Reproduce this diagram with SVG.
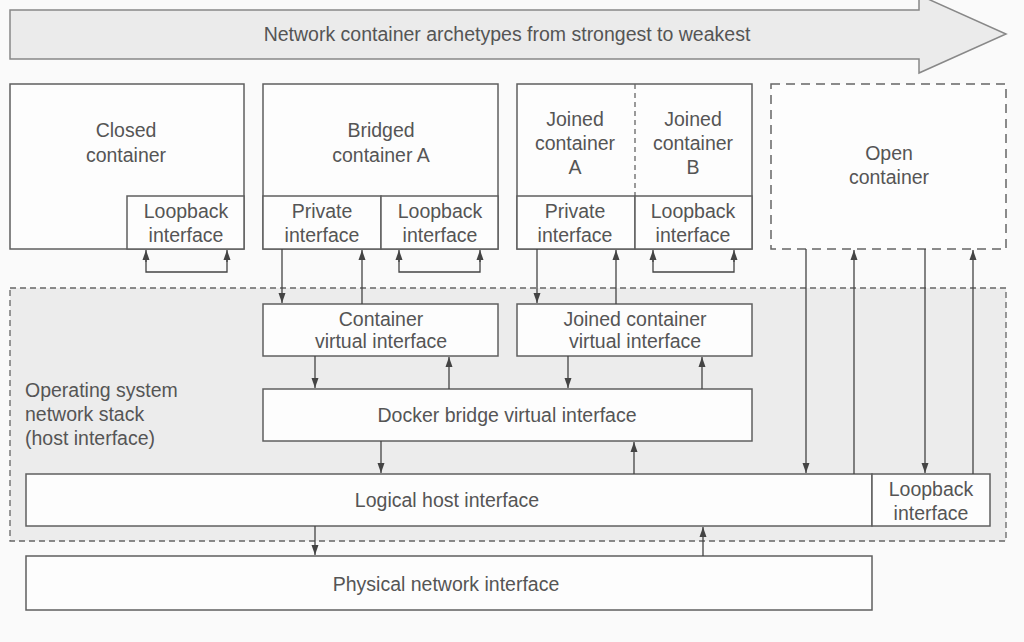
<svg xmlns="http://www.w3.org/2000/svg" width="1024" height="642" viewBox="0 0 1024 642">
<defs>
<marker id="ah" viewBox="0 0 10 10" refX="10" refY="5" markerWidth="10" markerHeight="10" markerUnits="userSpaceOnUse" orient="auto">
<path d="M0,1.5 L10,5 L0,8.5 Z" fill="#444"/>
</marker>
<style>
.bx{fill:#fdfdfd;stroke:#5f5f5f;stroke-width:1.5}
.t{font-family:"Liberation Sans",Arial,sans-serif;font-size:19.5px;fill:#555;text-anchor:middle}
.tl{font-family:"Liberation Sans",Arial,sans-serif;font-size:19.5px;fill:#555}
.c{fill:none;stroke:#444;stroke-width:1.3}
.ca{fill:none;stroke:#444;stroke-width:1.3;marker-end:url(#ah)}
</style>
</defs>
<rect width="1024" height="642" fill="#fafafa"/>
<g id="banner">
<polygon points="10,10 919,10 919,-5 1006,34 919,73 919,59 10,59" fill="#ebebeb" stroke="#888" stroke-width="1.5"/>
<text class="t" x="507" y="41">Network container archetypes from strongest to weakest</text>
</g>
<g id="os-stack">
<rect x="10" y="288" width="996" height="253" fill="#ececec" stroke="#666" stroke-width="1.3" stroke-dasharray="6,4"/>
<text class="tl" x="25" y="397">Operating system</text>
<text class="tl" x="25" y="421">network stack</text>
<text class="tl" x="25" y="445">(host interface)</text>
</g>
<g id="closed">
<rect class="bx" x="10" y="84" width="234" height="165"/>
<rect class="bx" x="127" y="196" width="117" height="53"/>
<text class="t" x="126" y="137">Closed</text>
<text class="t" x="126" y="162">container</text>
<text class="t" x="186" y="218">Loopback</text>
<text class="t" x="186" y="242">interface</text>
</g>
<g id="bridged">
<rect class="bx" x="263" y="84" width="235" height="165"/>
<rect class="bx" x="263" y="196" width="118" height="53"/>
<rect class="bx" x="381" y="196" width="117" height="53"/>
<text class="t" x="381" y="137">Bridged</text>
<text class="t" x="381" y="162">container A</text>
<text class="t" x="322" y="218">Private</text>
<text class="t" x="322" y="242">interface</text>
<text class="t" x="440" y="218">Loopback</text>
<text class="t" x="440" y="242">interface</text>
</g>
<g id="joined">
<rect class="bx" x="517" y="84" width="235" height="165"/>
<line x1="635" y1="84" x2="635" y2="196" stroke="#666" stroke-width="1.3" stroke-dasharray="5,4"/>
<rect class="bx" x="517" y="196" width="118" height="53"/>
<rect class="bx" x="635" y="196" width="117" height="53"/>
<text class="t" x="575" y="126">Joined</text>
<text class="t" x="575" y="150">container</text>
<text class="t" x="575" y="174">A</text>
<text class="t" x="693" y="126">Joined</text>
<text class="t" x="693" y="150">container</text>
<text class="t" x="693" y="174">B</text>
<text class="t" x="575" y="218">Private</text>
<text class="t" x="575" y="242">interface</text>
<text class="t" x="693" y="218">Loopback</text>
<text class="t" x="693" y="242">interface</text>
</g>
<g id="open">
<rect x="771" y="84" width="235" height="165" fill="#fdfdfd" stroke="#666" stroke-width="1.5" stroke-dasharray="9,6"/>
<text class="t" x="889" y="160">Open</text>
<text class="t" x="889" y="184">container</text>
</g>
<g id="container-vif">
<rect class="bx" x="263" y="304" width="235" height="52"/>
<text class="t" x="381" y="326">Container</text>
<text class="t" x="381" y="348">virtual interface</text>
</g>
<g id="joined-vif">
<rect class="bx" x="517" y="304" width="235" height="52"/>
<text class="t" x="635" y="326">Joined container</text>
<text class="t" x="635" y="348">virtual interface</text>
</g>
<g id="docker-bridge">
<rect class="bx" x="263" y="389" width="489" height="52"/>
<text class="t" x="507" y="422">Docker bridge virtual interface</text>
</g>
<g id="logical-host">
<rect class="bx" x="26" y="474" width="846" height="52"/>
<text class="t" x="447" y="507">Logical host interface</text>
</g>
<g id="host-loopback">
<rect class="bx" x="872" y="474" width="118" height="52"/>
<text class="t" x="931" y="496">Loopback</text>
<text class="t" x="931" y="520">interface</text>
</g>
<g id="physical">
<rect class="bx" x="26" y="556" width="846" height="54"/>
<text class="t" x="446" y="591">Physical network interface</text>
</g>
<g id="connectors">
<polyline class="c" points="146,260 146,272 227,272 227,260"/>
<line class="ca" x1="146" y1="262" x2="146" y2="250"/>
<line class="ca" x1="227" y1="262" x2="227" y2="250"/>
<polyline class="c" points="399,260 399,272 480,272 480,260"/>
<line class="ca" x1="399" y1="262" x2="399" y2="250"/>
<line class="ca" x1="480" y1="262" x2="480" y2="250"/>
<polyline class="c" points="653,260 653,272 734,272 734,260"/>
<line class="ca" x1="653" y1="262" x2="653" y2="250"/>
<line class="ca" x1="734" y1="262" x2="734" y2="250"/>
<line class="ca" x1="282" y1="249" x2="282" y2="303"/>
<line class="ca" x1="362" y1="304" x2="362" y2="250"/>
<line class="ca" x1="537" y1="249" x2="537" y2="303"/>
<line class="ca" x1="616" y1="304" x2="616" y2="250"/>
<line class="ca" x1="315" y1="356" x2="315" y2="388"/>
<line class="ca" x1="449" y1="389" x2="449" y2="357"/>
<line class="ca" x1="568" y1="356" x2="568" y2="388"/>
<line class="ca" x1="702" y1="389" x2="702" y2="357"/>
<line class="ca" x1="381" y1="441" x2="381" y2="473"/>
<line class="ca" x1="634" y1="474" x2="634" y2="442"/>
<line class="ca" x1="315" y1="526" x2="315" y2="555"/>
<line class="ca" x1="703" y1="556" x2="703" y2="527"/>
<line class="ca" x1="806" y1="249" x2="806" y2="473"/>
<line class="ca" x1="854" y1="474" x2="854" y2="250"/>
<line class="ca" x1="925" y1="249" x2="925" y2="473"/>
<line class="ca" x1="973" y1="474" x2="973" y2="250"/>
</g>
</svg>
